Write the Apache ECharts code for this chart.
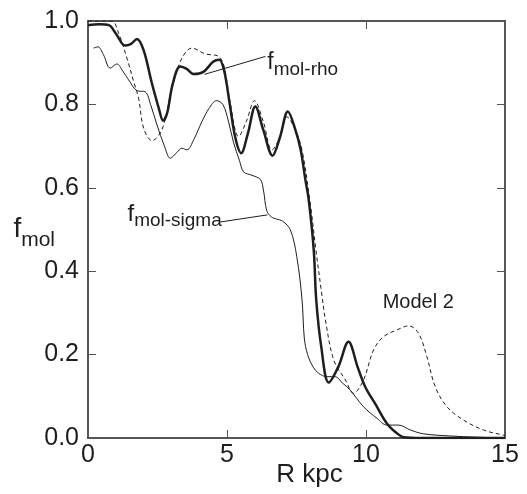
<!DOCTYPE html>
<html>
<head>
<meta charset="utf-8">
<script src="https://cdn.jsdelivr.net/npm/echarts@6/dist/echarts.min.js"></script>
<style>html,body{margin:0;padding:0;background:#fff;}#c{width:527px;height:494px;}</style>
</head>
<body>
<div id="c"></div>
<script>
// ---- data ----
const xTicks = [0, 5, 10, 15];
const yTicks = [0.0, 0.2, 0.4, 0.6, 0.8, 1.0];

const rRho = [0, 0.4, 0.75, 1.0, 1.34, 1.55, 1.76, 2.0, 2.3, 2.55, 2.7, 2.85, 3.05, 3.32, 3.55, 3.8, 4.15, 4.5, 4.72, 4.9, 5.1, 5.3, 5.51, 5.75, 6.02, 6.3, 6.64, 6.9, 7.19, 7.46, 7.65, 7.82, 7.94, 8.12, 8.21, 8.39, 8.66, 9.0, 9.37, 9.7, 9.97, 10.35, 10.75, 11.1, 11.35, 12, 13, 14, 15];
const fRho = [0.99, 0.992, 0.99, 0.97, 0.941, 0.945, 0.957, 0.93, 0.85, 0.79, 0.761, 0.78, 0.85, 0.891, 0.885, 0.873, 0.878, 0.902, 0.907, 0.88, 0.80, 0.72, 0.683, 0.73, 0.795, 0.74, 0.677, 0.72, 0.783, 0.739, 0.691, 0.619, 0.571, 0.451, 0.331, 0.219, 0.133, 0.17, 0.231, 0.17, 0.123, 0.08, 0.035, 0.012, 0.002, 0, 0, 0, 0];

const rSigma = [0.2, 0.36, 0.55, 0.8, 1.04, 1.25, 1.46, 1.76, 2.06, 2.25, 2.48, 2.75, 2.96, 3.2, 3.38, 3.56, 3.8, 4.1, 4.35, 4.62, 4.85, 5.05, 5.23, 5.45, 5.6, 5.9, 6.2, 6.31, 6.43, 6.6, 6.79, 7.0, 7.28, 7.51, 7.7, 7.78, 7.9, 8.1, 8.3, 8.59, 8.89, 9.15, 9.43, 9.91, 10.4, 10.75, 11.17, 11.6, 12.07, 13, 14, 15];
const fSigma = [0.935, 0.938, 0.92, 0.887, 0.897, 0.88, 0.859, 0.833, 0.83, 0.80, 0.751, 0.70, 0.671, 0.685, 0.695, 0.691, 0.715, 0.759, 0.79, 0.809, 0.80, 0.76, 0.71, 0.665, 0.638, 0.63, 0.62, 0.595, 0.545, 0.53, 0.525, 0.52, 0.499, 0.435, 0.331, 0.24, 0.2, 0.17, 0.155, 0.147, 0.147, 0.132, 0.115, 0.075, 0.047, 0.031, 0.031, 0.019, 0.01, 0.005, 0.002, 0];

const rModel2 = [0, 0.5, 0.86, 1.1, 1.4, 1.64, 1.82, 2.0, 2.3, 2.66, 3.02, 3.38, 3.74, 4.22, 4.7, 4.9, 5.1, 5.42, 5.7, 5.99, 6.3, 6.62, 6.9, 7.16, 7.45, 7.7, 8.0, 8.2, 8.42, 8.54, 8.84, 9.26, 9.55, 9.91, 10.27, 10.63, 11.11, 11.53, 11.89, 12.19, 12.49, 12.91, 13.51, 14.23, 14.93, 15];
const fModel2 = [1.0, 1.0, 1.0, 0.971, 0.911, 0.855, 0.815, 0.743, 0.713, 0.739, 0.839, 0.911, 0.935, 0.921, 0.915, 0.89, 0.81, 0.723, 0.76, 0.809, 0.76, 0.691, 0.72, 0.770, 0.74, 0.69, 0.56, 0.45, 0.34, 0.283, 0.187, 0.139, 0.107, 0.139, 0.211, 0.243, 0.259, 0.269, 0.251, 0.195, 0.123, 0.075, 0.043, 0.019, 0.007, 0.006];

// annotation anchors (data coordinates)
const rhoLeader = [[4.19, 0.872], [6.38, 0.915]];
const sigmaLeader = [[4.76, 0.518], [6.45, 0.535]];
const rhoLabelAt = [6.45, 0.901];
const sigmaLabelAt = [1.42, 0.537];
const model2LabelAt = [11.88, 0.325];

// ---- chart ----
const FONT = 'Liberation Sans, Arial, Helvetica, sans-serif';
const INK = '#1e1e1e';
const zip = (xs, ys) => xs.map((x, i) => [x, ys[i]]);

const frameAxis = (extra) => Object.assign({
  type: 'value',
  axisLine: { show: true, onZero: false, lineStyle: { color: INK, width: 1.5 } },
  axisTick: { show: true, inside: true, length: 8, lineStyle: { color: '#555', width: 1 } },
  splitLine: { show: false },
  nameMoveOverlap: false
}, extra);

const subRich = (fs, ss, pad) => ({
  f: { fontSize: fs, fontFamily: FONT, color: INK },
  s: { fontSize: ss, fontFamily: FONT, color: INK, padding: [pad, 0, 0, 0] }
});

const chart = echarts.init(document.getElementById('c'), null, { renderer: 'canvas' });
chart.setOption({
  animation: false,
  backgroundColor: '#fff',
  grid: { left: 88, right: 22, top: 21, bottom: 56, containLabel: false, outerBoundsMode: 'none' },
  xAxis: [
    frameAxis({
      min: xTicks[0], max: xTicks[xTicks.length - 1], interval: xTicks[1] - xTicks[0], position: 'bottom',
      axisLabel: { fontSize: 25, color: INK, fontFamily: FONT, margin: 5 },
      name: 'R kpc', nameLocation: 'middle', nameGap: 24,
      nameTextStyle: { fontSize: 26, color: INK, fontFamily: FONT, padding: [0, 0, 0, 26] }
    }),
    frameAxis({
      min: xTicks[0], max: xTicks[xTicks.length - 1], interval: xTicks[1] - xTicks[0], position: 'top',
      axisLabel: { show: false }
    })
  ],
  yAxis: [
    frameAxis({
      min: yTicks[0], max: yTicks[yTicks.length - 1], interval: 0.2, position: 'left',
      axisLabel: { fontSize: 25, color: INK, fontFamily: FONT, margin: 9, formatter: v => v.toFixed(1) },
      name: '{f|f}{s|mol}', nameLocation: 'middle', nameRotate: 0, nameGap: 33,
      nameTextStyle: { rich: subRich(28, 21, 22) }
    }),
    frameAxis({
      min: yTicks[0], max: yTicks[yTicks.length - 1], interval: 0.2, position: 'right',
      axisLabel: { show: false }
    })
  ],
  series: [
    {
      type: 'line', name: 'fmol-rho', data: zip(rRho, fRho), showSymbol: false, smooth: 0.35,
      lineStyle: { color: INK, width: 2.5 },
      markLine: {
        silent: true, symbol: ['none', 'none'], label: { show: false },
        lineStyle: { color: INK, width: 1, type: 'solid' },
        data: [[{ coord: rhoLeader[0] }, { coord: rhoLeader[1] }]]
      },
      markPoint: {
        silent: true, symbol: 'circle', symbolSize: 0,
        data: [{
          coord: rhoLabelAt,
          label: { show: true, position: 'right', distance: 0, formatter: '{f|f}{s|mol-rho}', rich: subRich(23, 19, 14) }
        }]
      }
    },
    {
      type: 'line', name: 'fmol-sigma', data: zip(rSigma, fSigma), showSymbol: false, smooth: 0.35,
      lineStyle: { color: INK, width: 1 },
      markLine: {
        silent: true, symbol: ['none', 'none'], label: { show: false },
        lineStyle: { color: INK, width: 1, type: 'solid' },
        data: [[{ coord: sigmaLeader[0] }, { coord: sigmaLeader[1] }]]
      },
      markPoint: {
        silent: true, symbol: 'circle', symbolSize: 0,
        data: [{
          coord: sigmaLabelAt,
          label: { show: true, position: 'right', distance: 0, formatter: '{f|f}{s|mol-sigma}', rich: subRich(24, 19, 14) }
        }]
      }
    },
    {
      type: 'line', name: 'Model 2', data: zip(rModel2, fModel2), showSymbol: false, smooth: 0.35,
      lineStyle: { color: INK, width: 1, type: [4, 3] },
      markPoint: {
        silent: true, symbol: 'circle', symbolSize: 0,
        data: [{
          coord: model2LabelAt,
          label: { show: true, position: 'inside', formatter: 'Model 2', fontSize: 20, color: INK, fontFamily: FONT }
        }]
      }
    }
  ]
});
</script>
</body>
</html>
